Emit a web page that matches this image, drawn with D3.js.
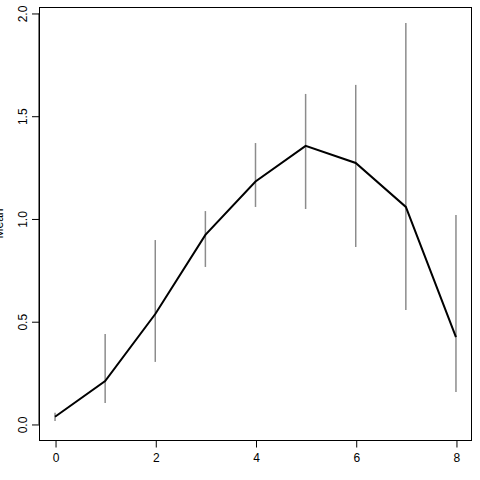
<!DOCTYPE html>
<html>
<head>
<meta charset="utf-8">
<script src="https://cdn.jsdelivr.net/npm/d3@7"></script>
<style>
  body { margin: 0; background: #fff; }
  svg { display: block; font-family: "Liberation Sans", Arial, sans-serif; }
</style>
</head>
<body>
<div id="chart"></div>
<script>
// values
const xs     = [0, 1, 2, 3, 4, 5, 6, 7, 8];
const means  = [0.035, 0.209, 0.535, 0.92, 1.18, 1.353, 1.27, 1.056, 0.423];
const lowers = [0.015, 0.102, 0.302, 0.764, 1.056, 1.046, 0.861, 0.555, 0.156];
const uppers = [0.054, 0.438, 0.895, 1.036, 1.367, 1.606, 1.65, 1.951, 1.017];
const xTicks = [0, 2, 4, 6, 8];
const yTicks = [0, 0.5, 1, 1.5, 2];
const xLabel = "time";
const yLabel = "Mean";

const W = 480, H = 480;
const box = { left: 39, right: 472, top: 7, bottom: 440 };

const svg = d3.select("#chart").append("svg")
    .attr("width", W).attr("height", H);

// R style: pad ranges by 4%
const xPad = (d3.max(xs) - d3.min(xs)) * 0.04;
const yMin = 0, yMax = d3.max(uppers);
const yPad = (yMax - yMin) * 0.04;

const x = d3.scaleLinear()
    .domain([d3.min(xs) - xPad, d3.max(xs) + xPad])
    .range([box.left, box.right]);
const y = d3.scaleLinear()
    .domain([yMin - yPad, yMax + yPad])
    .range([box.bottom, box.top]);

// error bars
svg.append("g")
    .selectAll("line")
    .data(xs)
    .join("line")
    .attr("x1", (d) => x(d)).attr("x2", (d) => x(d))
    .attr("y1", (d, i) => y(lowers[i]))
    .attr("y2", (d, i) => y(uppers[i]))
    .attr("stroke", "#8c8c8c")
    .attr("stroke-width", 1.5);

// mean line
const line = d3.line()
    .x((d) => x(d))
    .y((d, i) => y(means[i]));
svg.append("path")
    .datum(xs)
    .attr("d", line)
    .attr("fill", "none")
    .attr("stroke", "#000")
    .attr("stroke-width", 2);

// plot box
svg.append("rect")
    .attr("x", box.left + 0.5).attr("y", box.top + 0.5)
    .attr("width", box.right - box.left - 1)
    .attr("height", box.bottom - box.top)
    .attr("fill", "none")
    .attr("stroke", "#000")
    .attr("stroke-width", 1);

// x axis
const xAxis = svg.append("g")
    .attr("transform", `translate(0.5,${box.bottom + 0.5})`)
    .call(d3.axisBottom(x).tickValues(xTicks).tickSize(7).tickPadding(6).tickFormat(d3.format("d")));
xAxis.select(".domain")
    .attr("d", `M${x(xTicks[0])},0H${x(xTicks[xTicks.length - 1])}`);
xAxis.selectAll("text").attr("font-size", 12).attr("font-family", null).attr("fill", "#000");

// y axis with vertical labels
const yAxis = svg.append("g")
    .attr("transform", `translate(${box.left},0.5)`)
    .call(d3.axisLeft(y).tickValues(yTicks).tickSize(7).tickFormat(d3.format(".1f")));
yAxis.select(".domain")
    .attr("d", `M0,${y(yTicks[0])}V${y(yTicks[yTicks.length - 1])}`);
yAxis.selectAll("text")
    .attr("font-size", 12).attr("font-family", null).attr("fill", "#000")
    .attr("x", null).attr("dy", null)
    .attr("text-anchor", "middle")
    .attr("transform", "translate(-12,0) rotate(-90)");

// axis titles (mostly outside the window, as in the original)
svg.append("text")
    .attr("x", (box.left + box.right) / 2)
    .attr("y", 489)
    .attr("text-anchor", "middle")
    .attr("font-size", 12)
    .text(xLabel);
svg.append("text")
    .attr("transform", `translate(3,${(box.top + box.bottom) / 2}) rotate(-90)`)
    .attr("text-anchor", "middle")
    .attr("font-size", 12)
    .text(yLabel);
</script>
</body>
</html>
